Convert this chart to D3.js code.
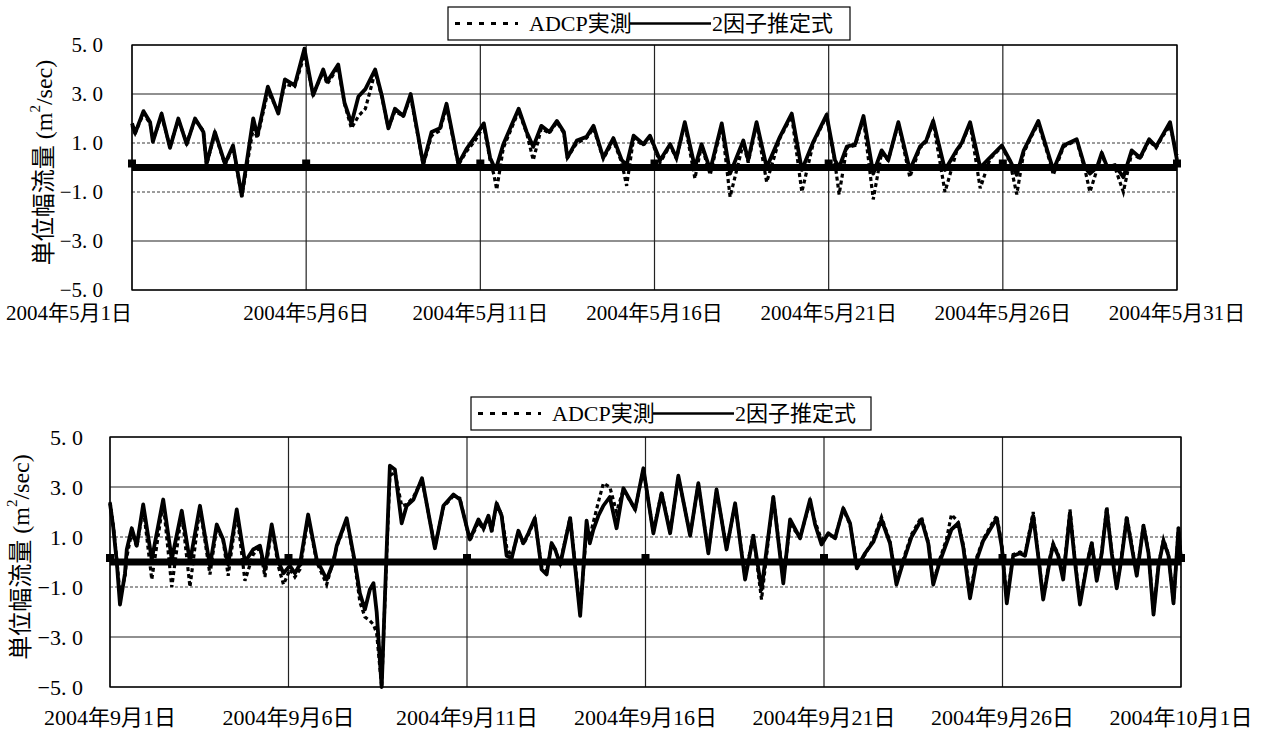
<!DOCTYPE html>
<html>
<head>
<meta charset="utf-8">
<script src="https://cdn.jsdelivr.net/npm/d3@7"></script>
<style>
  html, body { margin: 0; padding: 0; background: #fff; }
  svg { display: block; }
  text { font-family: "Liberation Serif", "Noto Sans CJK JP", serif; fill: #000; }
</style>
</head>
<body>
<svg id="chart" width="1264" height="734"></svg>
<script>
// ---- data -------------------------------------------------------------
// tick labels (one every 5 days)
const mayTicks = ["2004年5月1日", "2004年5月6日", "2004年5月11日", "2004年5月16日",
                  "2004年5月21日", "2004年5月26日", "2004年5月31日"];
const sepTicks = ["2004年9月1日", "2004年9月6日", "2004年9月11日", "2004年9月16日",
                  "2004年9月21日", "2004年9月26日", "2004年10月1日"];
const tickDays = [0, 5, 10, 15, 20, 25, 30];
const yTicks = [5, 3, 1, -1, -3, -5];
const baseline = [0, 0, 0, 0, 0, 0, 0];   // reference series at 0, one point per tick
const legendLabels = ["ADCP実測", "2因子推定式"];

// May 2004: elapsed days since May 1, estimate (2因子推定式) and ADCP observation
const mayDay = [
  0, 0.09, 0.33, 0.52, 0.6, 0.85, 1.09, 1.33, 1.57, 1.81,
  2.05, 2.14, 2.38, 2.67, 2.9, 3.15, 3.48, 3.6, 3.9, 4.2,
  4.39, 4.67, 4.95, 5.2, 5.49, 5.6, 5.92, 6.1, 6.3, 6.5,
  6.7, 6.98, 7.17, 7.36, 7.55, 7.79, 8.0, 8.36, 8.6, 8.84,
  9.03, 9.37, 9.6, 9.85, 10.1, 10.28, 10.39, 10.47, 10.66, 11.1,
  11.33, 11.52, 11.75, 11.98, 12.2, 12.4, 12.5, 12.77, 13.05, 13.25,
  13.53, 13.82, 14.06, 14.2, 14.4, 14.68, 14.87, 15.16, 15.45, 15.63,
  15.87, 16.16, 16.35, 16.6, 16.93, 17.17, 17.55, 17.69, 17.93, 18.22,
  18.6, 18.94, 19.23, 19.56, 19.94, 20.18, 20.3, 20.52, 20.76, 21.0,
  21.28, 21.52, 21.71, 22.0, 22.33, 22.62, 22.8, 23.0, 23.34, 23.67,
  23.82, 24.06, 24.35, 24.63, 24.97, 25.2, 25.4, 25.6, 25.83, 26.02,
  26.36, 26.45, 26.74, 27.12, 27.36, 27.5, 27.7, 27.84, 28.0, 28.22,
  28.46, 28.7, 28.94, 29.2, 29.4, 29.6, 29.8, 30.0
];
const mayEst = [
  1.8, 1.4, 2.3, 1.85, 1.05, 2.2, 0.8, 2.0, 0.95, 2.0,
  1.45, 0.15, 1.45, 0.15, 0.9, -1.15, 2.0, 1.3, 3.3, 2.2,
  3.6, 3.35, 4.85, 2.95, 4.0, 3.5, 4.2, 2.65, 1.8, 2.9,
  3.2, 4.0, 2.95, 1.6, 2.4, 2.1, 3.0, 0.15, 1.45, 1.6,
  2.6, 0.15, 0.75, 1.25, 1.8, 0.4, 0.05, 0.05, 0.95, 2.4,
  1.45, 0.85, 1.7, 1.45, 1.9, 1.45, 0.4, 1.1, 1.25, 1.7,
  0.4, 1.2, 0.3, 0.1, 1.3, 0.95, 1.3, 0.3, 0.95, 0.4,
  1.85, 0.0, 0.95, -0.1, 1.8, -0.25, 1.1, 0.3, 1.85, 0.0,
  1.25, 2.2, -0.1, 1.05, 2.15, 0.3, 0.0, 0.85, 0.95, 2.1,
  -0.25, 0.7, 0.3, 1.85, -0.1, 0.85, 1.1, 1.9, -0.1, 0.7,
  1.0, 1.85, 0.0, 0.4, 0.9, 0.3, -0.3, 0.7, 1.35, 1.9,
  0.3, -0.1, 0.9, 1.15, 0.0, -0.25, 0.0, 0.6, 0.0, 0.1,
  -0.4, 0.7, 0.4, 1.15, 0.85, 1.35, 1.85, 0.3
];
const mayObs = [
  1.7, 1.4, 2.2, 1.8, 1.1, 2.1, 0.85, 1.95, 1.0, 1.95,
  1.5, 0.1, 1.4, 0.1, 0.85, -1.2, 1.6, 1.2, 3.1, 2.3,
  3.4, 3.3, 4.6, 3.0, 3.9, 3.4, 4.1, 2.6, 1.6, 2.1,
  2.4, 3.9, 2.9, 1.6, 2.3, 2.1, 2.9, 0.1, 1.3, 1.5,
  2.5, 0.1, 0.65, 1.1, 1.7, 0.3, -0.3, -0.9, 0.8, 2.3,
  1.4, 0.3, 1.6, 1.4, 1.85, 1.4, 0.4, 1.0, 1.2, 1.6,
  0.35, 1.1, 0.2, -0.75, 1.2, 0.9, 1.25, 0.2, 0.9, 0.35,
  1.8, -0.45, 0.9, -0.3, 1.75, -1.2, 1.0, 0.2, 1.8, -0.6,
  1.2, 2.1, -1.0, 1.0, 2.1, 0.2, -1.1, 0.8, 0.9, 2.0,
  -1.3, 0.6, 0.3, 1.8, -0.4, 0.8, 1.05, 1.85, -1.0, 0.65,
  0.95, 1.8, -0.85, 0.35, 0.85, 0.25, -1.1, 0.6, 1.3, 1.8,
  0.2, -0.3, 0.85, 1.1, -0.1, -1.0, -0.1, 0.55, -0.05, 0.0,
  -1.0, 0.6, 0.35, 1.1, 0.8, 1.3, 1.7, 0.5
];

// September 2004: elapsed days since Sep 1
const sepDay = [
  0, 0.09, 0.19, 0.28, 0.42, 0.47, 0.61, 0.75, 0.93, 1.17,
  1.49, 1.73, 2.01, 2.24, 2.52, 2.8, 2.99, 3.17, 3.31, 3.55,
  3.78, 4.01, 4.2, 4.34, 4.53, 4.72, 4.86, 5.04, 5.18, 5.32,
  5.55, 5.79, 6.07, 6.26, 6.35, 6.63, 6.86, 7.0, 7.14, 7.28,
  7.38, 7.47, 7.61, 7.75, 7.84, 7.98, 8.17, 8.31, 8.5, 8.74,
  9.1, 9.34, 9.62, 9.8, 10.08, 10.32, 10.46, 10.6, 10.69, 10.83,
  10.97, 11.11, 11.25, 11.44, 11.58, 11.72, 11.9, 12.09, 12.23, 12.37,
  12.47, 12.61, 12.89, 13.17, 13.35, 13.44, 13.54, 13.68, 13.82, 14.0,
  14.19, 14.38, 14.71, 14.94, 15.22, 15.45, 15.69, 15.92, 16.25, 16.48,
  16.76, 16.99, 17.27, 17.51, 17.79, 18.02, 18.25, 18.58, 18.86, 19.05,
  19.33, 19.61, 19.75, 19.93, 20.12, 20.31, 20.54, 20.73, 20.92, 21.15,
  21.38, 21.61, 21.85, 22.03, 22.22, 22.45, 22.73, 22.92, 23.06, 23.24,
  23.43, 23.57, 23.76, 23.9, 24.09, 24.28, 24.46, 24.65, 24.84, 24.98,
  25.12, 25.3, 25.49, 25.63, 25.86, 26.0, 26.14, 26.33, 26.42, 26.56,
  26.7, 26.89, 27.03, 27.17, 27.36, 27.5, 27.64, 27.78, 27.92, 28.06,
  28.2, 28.33, 28.48, 28.62, 28.76, 28.95, 29.09, 29.23, 29.37, 29.51,
  29.65, 29.79, 29.93, 30.0
];
const sepEst = [
  2.35, 1.4, 0.0, -1.7, -0.45, 0.5, 1.35, 0.65, 2.3, 0.1,
  2.5, 0.1, 2.05, 0.0, 2.25, -0.15, 1.5, 0.9, -0.1, 2.1,
  0.0, 0.5, 0.65, -0.3, 1.5, 0.0, -0.45, -0.15, -0.45, -0.1,
  1.9, 0.1, -0.7, 0.0, 0.65, 1.75, 0.0, -1.25, -1.9, -1.1,
  -0.85, -2.0, -5.0, 0.5, 3.85, 3.7, 1.55, 2.25, 2.5, 3.35,
  0.55, 2.25, 2.7, 2.5, 0.9, 1.7, 1.35, 1.85, 1.25, 2.35,
  1.85, 0.25, 0.15, 1.25, 0.75, 1.15, 1.75, -0.3, -0.5, 0.75,
  0.5, -0.1, 1.75, -2.15, 1.65, 0.75, 1.3, 1.85, 2.25, 2.6,
  1.35, 2.95, 2.1, 3.75, 1.15, 2.75, 1.15, 3.45, 1.05, 3.15,
  0.35, 2.9, 0.5, 2.35, -0.7, 1.05, -1.1, 2.6, -0.85, 1.7,
  0.95, 2.5, 1.5, 0.7, 1.15, 0.95, 2.15, 1.55, -0.25, 0.35,
  0.8, 1.7, 0.75, -0.9, 0.0, 1.0, 1.7, 0.75, -0.9, 0.0,
  0.75, 1.3, 1.55, 0.6, -1.45, 0.1, 0.85, 1.3, 1.75, 0.6,
  -1.65, 0.25, 0.35, 0.25, 1.85, 0.25, -1.5, 0.1, 0.7, 0.25,
  -0.7, 1.95, 0.0, -1.7, -0.15, 0.75, -0.75, 0.35, 2.1, 0.35,
  -1.05, 0.1, 1.75, 0.6, -0.55, 1.45, 0.35, -2.1, -0.15, 0.85,
  0.25, -1.65, 1.35, 0.0
];
const sepObs = [
  2.4, 1.5, 0.1, -1.3, -0.6, 0.2, 1.2, 0.6, 2.2, -0.7,
  2.4, -1.0, 2.0, -1.0, 2.2, -0.5, 1.4, 0.85, -0.55, 2.0,
  -0.75, 0.3, 0.6, -0.6, 1.4, -0.2, -0.9, -0.3, -0.6, -0.3,
  1.8, 0.0, -0.9, 0.1, 0.6, 1.7, -0.1, -1.6, -2.2, -2.35,
  -2.5, -2.85, -5.0, 0.3, 3.45, 3.6, 2.25, 2.3, 2.6, 3.3,
  0.6, 2.2, 2.65, 2.55, 0.85, 1.6, 1.3, 1.8, 1.2, 2.3,
  1.9, 0.6, 0.2, 1.2, 0.7, 1.1, 1.7, -0.2, -0.4, 0.7,
  0.5, -0.05, 1.8, -2.0, 1.3, 1.0, 1.6, 2.4, 3.15, 3.0,
  2.0, 2.9, 2.1, 3.7, 1.2, 2.8, 1.2, 3.4, 1.1, 3.1,
  0.4, 2.85, 0.55, 2.3, -0.6, 1.1, -1.5, 2.6, -0.7, 1.5,
  1.0, 2.4, 1.6, 0.9, 1.1, 1.0, 2.1, 1.5, -0.1, 0.3,
  0.9, 1.8, 0.8, -0.8, 0.1, 1.1, 1.8, 0.8, -0.85, 0.1,
  0.9, 1.9, 1.6, 0.7, -1.3, 0.2, 0.9, 1.4, 1.85, 0.7,
  -1.5, 0.3, 0.4, 0.3, 2.0, 0.3, -1.4, 0.2, 0.75, 0.3,
  -0.6, 2.1, 0.1, -1.6, -0.1, 0.8, -0.7, 0.4, 2.2, 0.4,
  -1.0, 0.2, 1.85, 0.7, -0.5, 1.5, 0.4, -2.0, -0.1, 0.9,
  0.3, -1.6, 1.4, 0.1
];

// ---- layout -----------------------------------------------------------
const panels = [
  { ticks: mayTicks, day: mayDay, est: mayEst, obs: mayObs,
    left: 132, right: 1177, top: 45, bottom: 290,
    yLabelX: 103, xLabelY: 313, titleX: 44, fs: 21, yfs: 21, firstLabelStart: 6,
    legend: { x: 448, y: 7, w: 402, h: 33 } },
  { ticks: sepTicks, day: sepDay, est: sepEst, obs: sepObs,
    left: 110, right: 1181, top: 437, bottom: 687,
    yLabelX: 83, xLabelY: 717, titleX: 21, fs: 22, yfs: 22, firstLabelStart: null,
    legend: { x: 471, y: 397, w: 400, h: 33 } }
];

const svg = d3.select("#chart");
const fmtY = v => d3.format(".1f")(Math.abs(v)).replace(".", ". ");

panels.forEach(p => {
  const g = svg.append("g");
  const x = d3.scaleLinear().domain([0, 30]).range([p.left, p.right]);
  const y = d3.scaleLinear().domain([-5, 5]).range([p.bottom, p.top]);

  // horizontal grid
  g.selectAll("line.hgrid").data(yTicks).join("line")
    .attr("class", "hgrid")
    .attr("x1", p.left).attr("x2", p.right)
    .attr("y1", d => y(d)).attr("y2", d => y(d))
    .attr("stroke", "#222")
    .attr("stroke-width", d => Math.abs(d) === 1 ? 0.9 : 1.2)
    .attr("stroke-dasharray", d => Math.abs(d) === 1 ? "3,2" : null);

  // vertical grid
  g.selectAll("line.vgrid").data(tickDays).join("line")
    .attr("class", "vgrid")
    .attr("x1", d => x(d)).attr("x2", d => x(d))
    .attr("y1", p.top).attr("y2", p.bottom)
    .attr("stroke", "#222").attr("stroke-width", 1.2);

  // plot frame
  g.append("rect")
    .attr("x", p.left).attr("y", p.top)
    .attr("width", p.right - p.left).attr("height", p.bottom - p.top)
    .attr("fill", "none").attr("stroke", "#000").attr("stroke-width", 1.3);

  // y tick labels
  g.selectAll("text.ytick").data(yTicks).join("text")
    .attr("class", "ytick")
    .attr("x", p.yLabelX).attr("y", d => y(d))
    .attr("text-anchor", "end").attr("dominant-baseline", "central")
    .attr("font-size", p.yfs)
    .text(d => (d < 0 ? "\u2212" : "") + fmtY(d));

  // x tick labels; a first label may be pinned to the left edge
  const pinned = i => i === 0 && p.firstLabelStart !== null;
  g.selectAll("text.xtick").data(tickDays).join("text")
    .attr("class", "xtick")
    .attr("x", (d, i) => pinned(i) ? p.firstLabelStart : x(d))
    .attr("y", p.xLabelY)
    .attr("text-anchor", (d, i) => pinned(i) ? "start" : "middle")
    .attr("dominant-baseline", "central")
    .attr("font-size", p.fs)
    .text((d, i) => p.ticks[i]);

  // y axis title
  const title = g.append("text")
    .attr("transform", `translate(${p.titleX},${(p.top + p.bottom) / 2 - 5}) rotate(-90)`)
    .attr("text-anchor", "middle").attr("dominant-baseline", "central")
    .attr("font-size", 24);
  title.append("tspan").text("単位幅流量 (m");
  title.append("tspan").attr("dy", -9).attr("font-size", 15).text("2");
  title.append("tspan").attr("dy", 9).text("/sec)");

  // data series
  const line = (vals) => d3.line()
    .x((d, i) => x(p.day[i]))
    .y(d => y(d))(vals);

  g.append("path").attr("d", line(p.obs))
    .attr("fill", "none").attr("stroke", "#000")
    .attr("stroke-width", 3.2).attr("stroke-dasharray", "4,3");
  g.append("path").attr("d", line(p.est))
    .attr("fill", "none").attr("stroke", "#000")
    .attr("stroke-width", 3.8).attr("stroke-linejoin", "round");

  // thick zero line with square markers
  const zeroLine = d3.line().x((d, i) => x(tickDays[i])).y(d => y(d));
  g.append("path").attr("d", zeroLine(baseline))
    .attr("fill", "none").attr("stroke", "#000").attr("stroke-width", 7);
  g.selectAll("rect.mk").data(baseline).join("rect")
    .attr("class", "mk")
    .attr("x", (d, i) => x(tickDays[i]) - 4)
    .attr("y", d => y(d) - 8)
    .attr("width", 8).attr("height", 8)
    .attr("fill", "#000");

  // legend
  const L = p.legend;
  const lg = g.append("g");
  lg.append("rect").attr("x", L.x).attr("y", L.y).attr("width", L.w).attr("height", L.h)
    .attr("fill", "#fff").attr("stroke", "#000").attr("stroke-width", 1.2);
  const cy = L.y + L.h / 2;
  lg.append("line").attr("x1", L.x + 7).attr("x2", L.x + 70).attr("y1", cy).attr("y2", cy)
    .attr("stroke", "#000").attr("stroke-width", 3).attr("stroke-dasharray", "5,7");
  lg.append("text").attr("x", L.x + 81).attr("y", cy)
    .attr("dominant-baseline", "central").attr("font-size", 22).text(legendLabels[0]);
  lg.append("line").attr("x1", L.x + 182).attr("x2", L.x + 263).attr("y1", cy).attr("y2", cy)
    .attr("stroke", "#000").attr("stroke-width", 2.5);
  lg.append("text").attr("x", L.x + 264).attr("y", cy)
    .attr("dominant-baseline", "central").attr("font-size", 22).text(legendLabels[1]);
});
</script>
</body>
</html>
